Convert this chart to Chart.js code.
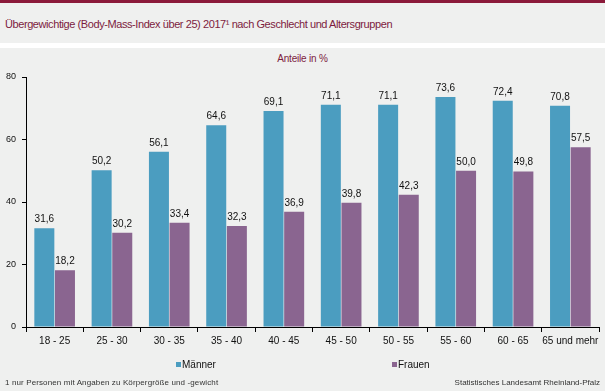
<!DOCTYPE html>
<html>
<head>
<meta charset="utf-8">
<script src="https://cdn.jsdelivr.net/npm/chart.js@4/dist/chart.umd.min.js"></script>
<style>
  html, body { margin: 0; padding: 0; }
  body { width: 605px; height: 391px; background: #eff0ef; position: relative; overflow: hidden; font-family: "Liberation Sans", Arial, sans-serif; }
  #topbar { position: absolute; left: 0; top: 0; width: 605px; height: 3px; background: #8b1a3a; }
  #band { position: absolute; left: 0; top: 43px; width: 605px; height: 5px; background: #ffffff; }
  #title { position: absolute; left: 5px; top: 17px; font-size: 11px; line-height: 14px; color: #7d1c40; white-space: nowrap; letter-spacing: -0.42px; }
  #sub { position: absolute; left: 0; width: 605px; text-align: center; top: 53px; font-size: 10px; line-height: 12px; color: #7d1c40; letter-spacing: -0.2px; }
  #foot { position: absolute; left: 5px; top: 378px; font-size: 8px; line-height: 10px; color: #333; white-space: nowrap; letter-spacing: 0.12px; }
  #src { position: absolute; right: 5px; top: 378px; font-size: 8px; line-height: 10px; color: #333; white-space: nowrap; }
  .leg { position: absolute; top: 359px; font-size: 10px; line-height: 12px; color: #111; white-space: nowrap; }
  .leg span { display: inline-block; width: 5px; height: 5px; margin-right: 1px; vertical-align: 1px; }
  #wrap { position: absolute; left: 0; top: 0; width: 605px; height: 391px; }
</style>
</head>
<body>
<div id="topbar"></div>
<div id="band"></div>
<div id="title">Übergewichtige (Body-Mass-Index über 25) 2017¹ nach Geschlecht und Altersgruppen</div>
<div id="sub">Anteile in %</div>
<div id="wrap"><canvas id="c" width="605" height="391"></canvas></div>
<div class="leg" id="leg0" style="left:176px"></div>
<div class="leg" id="leg1" style="left:392px"></div>
<div id="foot">1 nur Personen mit Angaben zu Körpergröße und -gewicht</div>
<div id="src">Statistisches Landesamt Rheinland-Pfalz</div>
<script>
const categories = ["18 - 25", "25 - 30", "30 - 35", "35 - 40", "40 - 45", "45 - 50", "50 - 55", "55 - 60", "60 - 65", "65 und mehr"];
const seriesNames = ["Männer", "Frauen"];
const maenner = [31.6, 50.2, 56.1, 64.6, 69.1, 71.1, 71.1, 73.6, 72.4, 70.8];
const frauen  = [18.2, 30.2, 33.4, 32.3, 36.9, 39.8, 42.3, 50.0, 49.8, 57.5];
const yTicks = [0, 20, 40, 60, 80];
const colors = ["#4b9dc0", "#8a6590"];

// HTML legend
[0, 1].forEach(i => {
  const el = document.getElementById("leg" + i);
  el.innerHTML = '<span style="background:' + colors[i] + '"></span>' + seriesNames[i];
});

const labelPlugin = {
  id: "valueLabels",
  afterDatasetsDraw(chart) {
    const ctx = chart.ctx;
    ctx.save();
    ctx.font = '10px "Liberation Sans", Arial, sans-serif';
    ctx.fillStyle = "#111";
    ctx.textAlign = "center";
    ctx.textBaseline = "alphabetic";
    chart.data.datasets.forEach((ds, di) => {
      const meta = chart.getDatasetMeta(di);
      meta.data.forEach((bar, i) => {
        const txt = ds.data[i].toFixed(1).replace(".", ",");
        ctx.fillText(txt, bar.x, bar.y - 6);
      });
    });
    ctx.restore();
  }
};

new Chart(document.getElementById("c"), {
  type: "bar",
  data: {
    labels: categories,
    datasets: [
      { label: seriesNames[0], data: maenner, backgroundColor: colors[0], categoryPercentage: 0.72, barPercentage: 0.97 },
      { label: seriesNames[1], data: frauen, backgroundColor: colors[1], categoryPercentage: 0.72, barPercentage: 0.97 }
    ]
  },
  options: {
    responsive: false,
    animation: false,
    devicePixelRatio: 1,
    layout: { padding: { top: 77, left: 0, right: 6, bottom: 0 } },
    plugins: { legend: { display: false }, tooltip: { enabled: false }, title: { display: false } },
    scales: {
      x: {
        grid: { display: true, drawOnChartArea: false, offset: true, color: "#000", tickLength: 5 },
        border: { color: "#000", width: 1 },
        ticks: { color: "#111", font: { family: "Liberation Sans", size: 10 }, padding: 3, maxRotation: 0, autoSkip: false },
        afterFit(s) { s.height = 64; }
      },
      y: {
        min: 0, max: 80,
        afterBuildTicks(s) { s.ticks = yTicks.map(v => ({ value: v })); },
        grid: { display: true, drawOnChartArea: false, color: "#000", tickLength: 4 },
        border: { color: "#000", width: 1 },
        ticks: { color: "#111", font: { family: "Liberation Sans", size: 9 }, padding: 6 },
        afterFit(s) { s.width = 26; }
      }
    }
  },
  plugins: [labelPlugin]
});
</script>
</body>
</html>
